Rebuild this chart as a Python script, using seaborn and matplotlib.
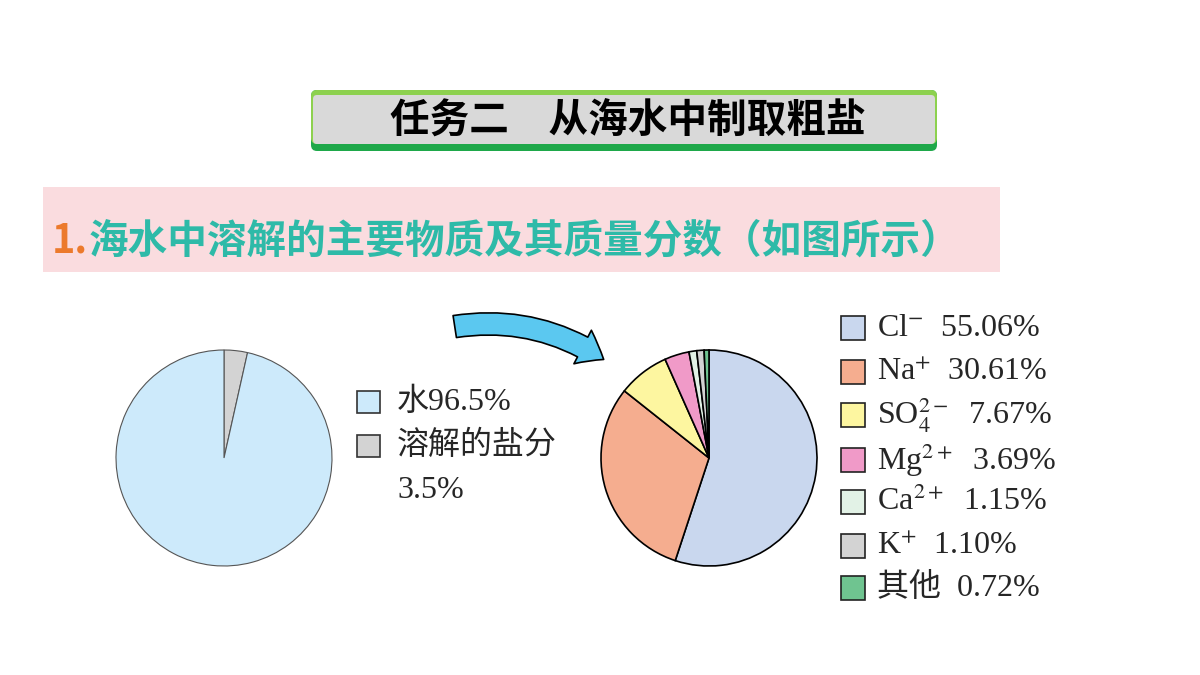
import matplotlib
matplotlib.use('Agg')
import matplotlib.pyplot as plt
import seaborn as sns
from matplotlib.patches import FancyBboxPatch, Rectangle, FancyArrowPatch

# data
water_labels = ['溶解的盐分', '水']
water_values = [3.5, 96.5]
ion_names = ['Cl$^{-}$', 'Na$^{+}$', 'SO$_4^{2-}$', 'Mg$^{2+}$', 'Ca$^{2+}$', 'K$^{+}$', '其他']
ion_values = [55.06, 30.61, 7.67, 3.69, 1.15, 1.10, 0.72]

title = '任务二　从海水中制取粗盐'
subtitle_num = '1.'
subtitle = '海水中溶解的主要物质及其质量分数（如图所示）'

water_colors = ['#d3d3d3', '#cdeafb']
ion_colors = ['#c9d7ee', '#f5ad8f', '#fdf6a0', '#f09ac8', '#e2f2e6', '#d3d3d3', '#6fc490']

sns.set_theme(style='white')
plt.rcParams['font.family'] = ['Liberation Serif', 'Noto Sans CJK SC', 'DejaVu Sans']
plt.rcParams['mathtext.fontset'] = 'stix'

fig = plt.figure(figsize=(12, 6.75), dpi=100)
bg = fig.add_axes([0, 0, 1, 1])
bg.set_xlim(0, 1200)
bg.set_ylim(675, 0)
bg.axis('off')

# title banner
bg.add_patch(FancyBboxPatch((311, 90), 626, 61, boxstyle='round,pad=0,rounding_size=6',
                            fc='#1ea84a', ec='none'))
bg.add_patch(FancyBboxPatch((311, 90), 626, 54, boxstyle='round,pad=0,rounding_size=6',
                            fc='#8dd14f', ec='none'))
bg.add_patch(FancyBboxPatch((313, 95), 622, 49, boxstyle='round,pad=0,rounding_size=4',
                            fc='#d9d9d9', ec='none'))
bg.text(628, 120, title, ha='center', va='center', fontsize=28.5,
        fontweight='bold', family=['Noto Sans CJK SC'], color='black')

# pink band with the subtitle
bg.add_patch(Rectangle((43, 187), 957, 85, fc='#fadcdf', ec='none'))
bg.text(52, 241, subtitle_num, ha='left', va='center', fontsize=28.5,
        fontweight='bold', family=['Noto Sans CJK SC'], color='#ec7a2c')
bg.text(89, 241, subtitle, ha='left', va='center', fontsize=28.5,
        fontweight='bold', family=['Noto Sans CJK SC'], color='#2ebaa8')

# curved arrow
bg.add_patch(FancyArrowPatch((452, 327), (606, 361),
                             connectionstyle='arc3,rad=-0.2',
                             arrowstyle='simple,head_length=1.1,head_width=1.7,tail_width=1.0',
                             mutation_scale=16, fc='#5bc8f0', ec='black', lw=1.2))


def pie_axes(cx, cy, r):
    pad = 1.03
    w = 2 * r * pad
    return fig.add_axes([(cx - r * pad) / 1200, 1 - (cy + r * pad) / 675,
                         w / 1200, w / 675])


ax1 = pie_axes(224, 458, 108)
ax1.pie(water_values, colors=water_colors, startangle=90, counterclock=False,
        wedgeprops=dict(edgecolor='#555555', linewidth=0.8))
ax1.set_xlim(-1.03, 1.03)
ax1.set_ylim(-1.03, 1.03)

ax2 = pie_axes(709, 458, 108)
ax2.pie(ion_values, colors=ion_colors, startangle=90, counterclock=False,
        wedgeprops=dict(edgecolor='black', linewidth=1.2))
ax2.set_xlim(-1.03, 1.03)
ax2.set_ylim(-1.03, 1.03)

# legend for the water pie
left_rows = [402, 446]
left_texts = ['水%g%%' % water_values[1], water_labels[0]]
left_cols = [water_colors[1], water_colors[0]]
for y, txt, c in zip(left_rows, left_texts, left_cols):
    bg.add_patch(Rectangle((357, y - 11), 23, 22, fc=c, ec='#333333', lw=1.2))
    bg.text(397, y, txt, ha='left', va='center', fontsize=23)
bg.text(397, 490, '%g%%' % water_values[0], ha='left', va='center', fontsize=23)

# legend for the ion pie
right_rows = [328, 372, 415, 460, 502, 546, 588]
for y, name, v, c in zip(right_rows, ion_names, ion_values, ion_colors):
    bg.add_patch(Rectangle((841, y - 12), 24, 24, fc=c, ec='#222222', lw=1.2))
    bg.text(877, y, '%s  %.2f%%' % (name, v), ha='left', va='center', fontsize=23)

fig.savefig('out.png', dpi=100)
